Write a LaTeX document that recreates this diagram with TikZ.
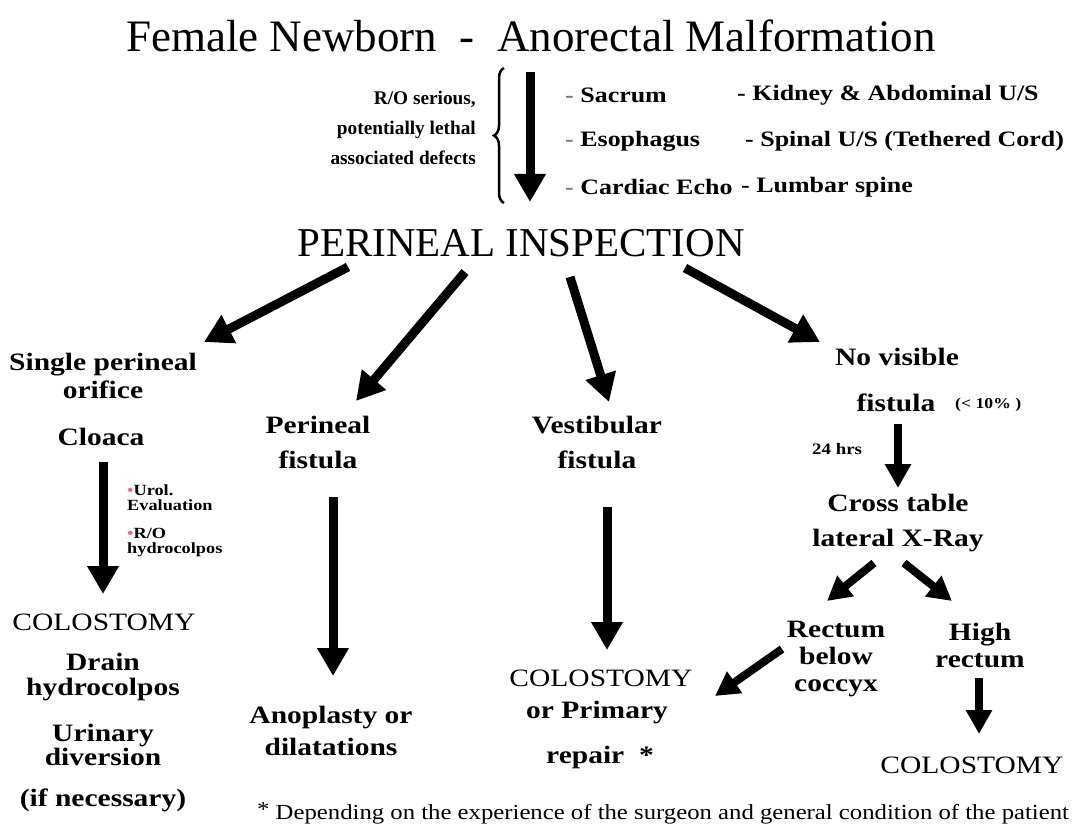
\documentclass[tikz,border=0pt]{standalone}
\usepackage{fontspec}
\setmainfont{Liberation Serif}
\newfontfamily\wideserif{Liberation Serif}[FakeStretch=1.18]
\newfontfamily\footserif{Liberation Serif}[FakeStretch=1.15]
\usetikzlibrary{arrows.meta,decorations.pathreplacing}
\definecolor{bulletpink}{RGB}{225,110,160}
\definecolor{dashgray}{RGB}{120,120,120}
\begin{document}
\begin{tikzpicture}[x=1pt,y=-1pt,
  bigarrow/.style={line width=9pt,-{Triangle[width=30pt,length=28pt]}},
  midarrow/.style={line width=8pt,-{Triangle[width=25pt,length=24pt]}},
  lbl/.style={font=\wideserif\bfseries\fontsize{25}{27}\selectfont,align=center,inner sep=0pt},
  caps/.style={font=\wideserif\fontsize{25}{28}\selectfont,align=center,inner sep=0pt},
  lst/.style={font=\wideserif\bfseries\fontsize{22}{24}\selectfont,anchor=west,inner sep=0pt},
  small/.style={font=\wideserif\bfseries\fontsize{15.5}{15}\selectfont,align=left,anchor=west,inner sep=0pt},
]
\useasboundingbox (0,0) rectangle (1077,834);
\fill[white] (0,0) rectangle (1077,834);

% title
\node[inner sep=0pt,font=\fontsize{45}{50}\selectfont] (title) at (531,36) {Female Newborn\ \ -\ \ Anorectal Malformation};

% R/O block
\node[inner sep=0pt,align=right,anchor=east,font=\bfseries\fontsize{19.3}{30}\selectfont] (ro) at (476,128) {R/O serious,\\potentially lethal\\associated defects};
\coordinate (brb) at (504,203);
\coordinate (brt) at (504,68);
\draw[line width=2.5pt,decorate,decoration={brace,amplitude=10pt}] (brb) -- (brt);
\coordinate (dtop) at (530,72);
\coordinate (dbot) at (530,202);
\draw[bigarrow] (dtop) -- (dbot);

\node[lst] (l1) at (565,95) {\textcolor{dashgray}{-} Sacrum};
\node[lst] (l2) at (565,141) {\textcolor{dashgray}{-} Esophagus};
\node[lst] (l3) at (565,187) {\textcolor{dashgray}{-} Cardiac Echo};
\node[lst] (r1) at (737,95) {- Kidney \& Abdominal U/S};
\node[lst] (r2) at (745,141) {- Spinal U/S (Tethered Cord)};
\node[lst] (r3) at (741,187) {- Lumbar spine};

% perineal inspection
\node[inner sep=0pt,font=\fontsize{41}{44}\selectfont] (pi) at (521,243) {PERINEAL INSPECTION};

% branch arrows
\coordinate (a1s) at (348,267); \coordinate (a1e) at (204,342);
\coordinate (a2s) at (465,272); \coordinate (a2e) at (356,401);
\coordinate (a3s) at (570,277); \coordinate (a3e) at (609,402);
\coordinate (a4s) at (685,268); \coordinate (a4e) at (820,342);
\draw[bigarrow] (a1s) -- (a1e);
\draw[bigarrow] (a2s) -- (a2e);
\draw[bigarrow] (a3s) -- (a3e);
\draw[bigarrow] (a4s) -- (a4e);

% column 1
\node[lbl,font=\wideserif\bfseries\fontsize{25}{28}\selectfont] (spo) at (103,376) {Single perineal\\orifice};
\node[lbl] (clo) at (101,437) {Cloaca};
\coordinate (c1s) at (103,462); \coordinate (c1e) at (103,594);
\draw[bigarrow] (c1s) -- (c1e);
\node[small] (uro) at (127,498) {\textcolor{bulletpink}{\textbullet}Urol.\\Evaluation};
\node[small] (hyd) at (127,543) {\textcolor{bulletpink}{\textbullet}R/O\\hydrocolpos};
\node[caps] (col1) at (104,622) {COLOSTOMY};
\node[lbl,font=\wideserif\bfseries\fontsize{25}{25}\selectfont] (drn) at (103,677) {Drain\\hydrocolpos};
\node[lbl,font=\wideserif\bfseries\fontsize{25}{24}\selectfont] (uri) at (103,745) {Urinary\\diversion};
\node[lbl] (ifn) at (103,800) {(if necessary)};

% column 2
\node[lbl,font=\wideserif\bfseries\fontsize{25}{35}\selectfont] (pf) at (318,442) {Perineal\\fistula};
\coordinate (c2s) at (333,497); \coordinate (c2e) at (333,676);
\draw[bigarrow] (c2s) -- (c2e);
\node[lbl,font=\wideserif\bfseries\fontsize{25}{32}\selectfont] (ano) at (331,731) {Anoplasty or\\dilatations};

% column 3
\node[lbl,font=\wideserif\bfseries\fontsize{25}{35}\selectfont] (vf) at (597,442) {Vestibular\\fistula};
\coordinate (c3s) at (607,507); \coordinate (c3e) at (607,650);
\draw[bigarrow] (c3s) -- (c3e);
\node[caps] (col3) at (601,678) {COLOSTOMY};
\node[lbl] (opr) at (597,713) {or Primary};
\node[lbl] (rep) at (600,757) {repair\ \ *};

% column 4
\node[lbl] (nov) at (897,357) {No visible};
\node[lbl] (fis) at (896,403) {fistula};
\node[inner sep=0pt,anchor=west,font=\wideserif\bfseries\fontsize{15}{15}\selectfont] (pct) at (955,405) {(< 10\% )};
\coordinate (c4s) at (898,424); \coordinate (c4e) at (898,488);
\draw[midarrow] (c4s) -- (c4e);
\node[inner sep=0pt,anchor=west,font=\wideserif\bfseries\fontsize{16}{16}\selectfont] (hrs) at (812,449) {24 hrs};
\node[lbl,font=\wideserif\bfseries\fontsize{25}{35}\selectfont] (ctx) at (898,523) {Cross table\\lateral X-Ray};
\coordinate (x1s) at (874,563); \coordinate (x1e) at (827,601);
\coordinate (x2s) at (904,563); \coordinate (x2e) at (952,601);
\draw[midarrow] (x1s) -- (x1e);
\draw[midarrow] (x2s) -- (x2e);
\node[lbl] (rbc) at (836,659) {Rectum\\below\\coccyx};
\node[lbl] (hr) at (980,645) {High\\rectum};
\coordinate (y1s) at (782,649); \coordinate (y1e) at (715,696);
\draw[midarrow] (y1s) -- (y1e);
\coordinate (y2s) at (979,678); \coordinate (y2e) at (979,734);
\draw[midarrow] (y2s) -- (y2e);
\node[caps] (col4) at (972,765) {COLOSTOMY};

% footnote
\node[inner sep=0pt,anchor=west,font=\footserif\fontsize{21.5}{24}\selectfont] (foot) at (257,813) {\raisebox{3pt}{*} Depending on the experience of the surgeon and general condition of the patient};
\end{tikzpicture}
\end{document}
